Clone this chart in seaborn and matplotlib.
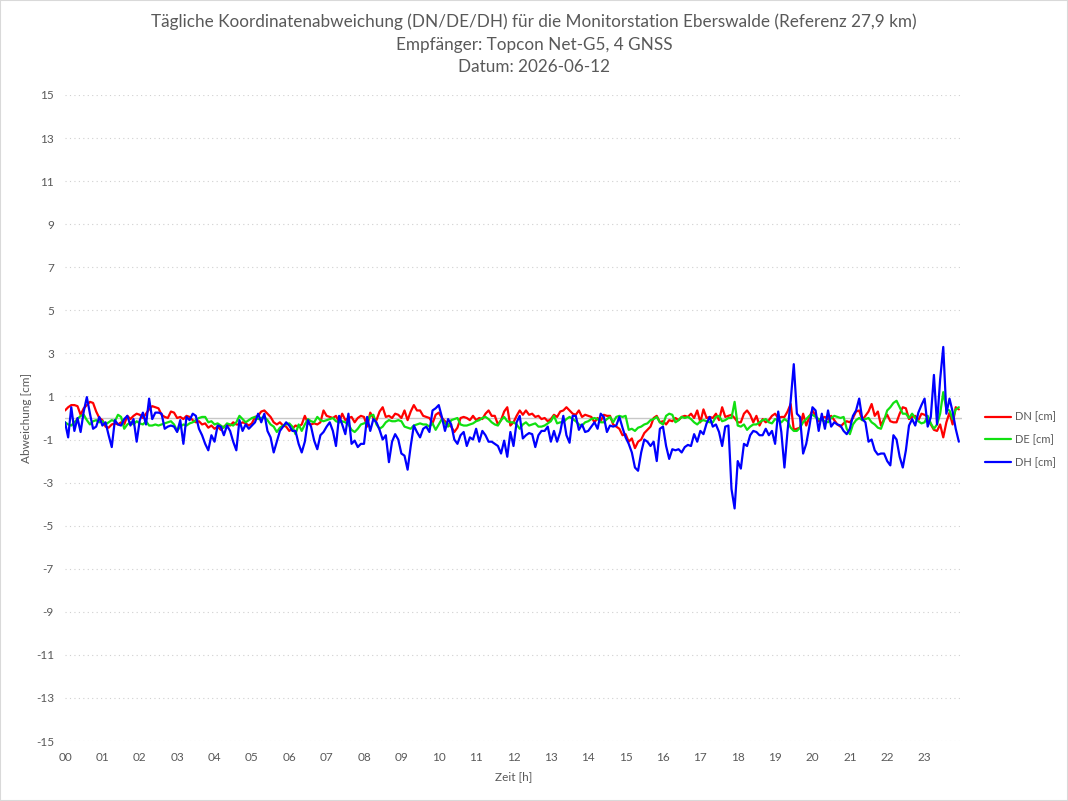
import numpy as np
import pandas as pd
import matplotlib
matplotlib.use("Agg")
import matplotlib.pyplot as plt
from matplotlib import font_manager
from matplotlib.patches import Rectangle
import seaborn as sns

# 5-minute samples, one row per hour (00..23)
dn_cm = [
    0.35, 0.5, 0.6, 0.6, 0.55, 0.15, 0.45, 0.6, 0.75, 0.7, 0.3, 0.0,
    -0.1, -0.4, -0.45, -0.3, -0.25, -0.3, -0.2, -0.3, 0.1, -0.05, 0.1, 0.2,
    0.15, 0.0, 0.2, 0.4, 0.55, 0.5, 0.45, 0.15, 0.05, 0.0, 0.3, 0.25,
    0.0, 0.05, -0.05, 0.1, 0.05, -0.1, -0.2, -0.15, -0.3, -0.25, -0.45, -0.35,
    -0.5, -0.4, -0.55, -0.4, -0.3, -0.35, -0.2, -0.3, -0.3, -0.2, -0.25, -0.35,
    -0.25, 0.05, 0.1, 0.3, 0.35, 0.2, 0.05, -0.2, -0.3, -0.2, -0.35, -0.4,
    -0.6, -0.5, -0.35, -0.4, -0.3, 0.1, -0.25, -0.3, -0.25, -0.3, -0.2, 0.35,
    0.1, 0.05, 0.0, 0.1, -0.2, 0.2, -0.1, 0.0, 0.05, -0.2, 0.0, 0.1,
    0.05, -0.4, 0.25, 0.0, -0.1, 0.3, 0.5, 0.05, 0.1, 0.0, 0.2, 0.15,
    0.0, 0.35, -0.1, 0.3, 0.6, 0.35, 0.35, 0.1, 0.05, 0.0, -0.25, 0.15,
    0.25, 0.0, -0.15, -0.3, -0.4, -0.65, -0.45, 0.0, 0.05, 0.0, -0.1, 0.1,
    -0.1, 0.0, -0.05, 0.2, 0.35, 0.1, 0.1, -0.3, -0.1, 0.3, 0.5, -0.35,
    -0.2, 0.1, 0.35, 0.15, 0.35, 0.15, 0.2, 0.05, 0.1, -0.05, 0.0, -0.15,
    -0.05, 0.15, 0.05, 0.3, 0.35, 0.5, 0.35, 0.2, 0.15, 0.35, 0.05, 0.15,
    0.1, 0.05, -0.2, 0.0, -0.15, 0.15, 0.1, 0.1, -0.3, -0.4, -0.5, -0.8,
    -0.75, -1.1, -0.95, -1.4, -1.1, -1.0, -0.7, -0.55, -0.4, 0.0, 0.1, -0.2,
    -0.15, -0.3, -0.1, -0.15, 0.0, -0.1, 0.05, 0.1, 0.05, 0.2, 0.0, 0.35,
    -0.2, 0.4, 0.0, 0.05, 0.0, 0.2, -0.1, 0.5, 0.05, 0.1, 0.15, 0.0,
    -0.2, -0.2, 0.2, 0.35, 0.15, -0.2, 0.1, -0.35, -0.05, -0.2, -0.1, 0.1,
    0.2, 0.0, 0.05, 0.05, 0.3, 0.65, -0.55, -0.5, -0.45, 0.2, -0.35, 0.05,
    0.35, 0.1, -0.15, 0.0, 0.05, -0.05, 0.1, -0.1, -0.3, -0.4, -0.25, -0.15,
    -0.2, 0.0, 0.3, 0.35, -0.1, 0.1, 0.3, 0.65, 0.1, 0.3, -0.35, -0.05,
    0.15, -0.15, -0.2, -0.2, 0.2, 0.5, 0.45, -0.05, 0.05, 0.1, -0.1, 0.2,
    0.15, 0.05, -0.3, -0.55, -0.6, -0.3, -0.9, -0.2, 0.25, -0.3, 0.5, 0.4,
]

de_cm = [
    -0.2, -0.3, -0.35, -0.2, -0.05, 0.1, 0.15, -0.1, -0.3, -0.15, -0.1, -0.2,
    -0.15, -0.3, -0.2, -0.1, -0.15, 0.15, 0.05, -0.5, -0.3, -0.2, -0.3, -0.15,
    -0.25, -0.3, -0.15, -0.35, -0.35, -0.3, -0.35, -0.3, -0.25, -0.2, -0.15, -0.3,
    -0.6, -0.4, -0.3, -0.35, -0.25, -0.2, -0.1, 0.0, 0.05, 0.05, -0.2, -0.15,
    -0.3, -0.25, -0.35, -0.45, -0.25, -0.3, -0.35, -0.2, 0.1, -0.05, -0.2, -0.1,
    0.0, 0.05, -0.05, 0.0, 0.05, -0.1, -0.3, -0.4, -0.65, -0.45, -0.35, -0.3,
    -0.25, -0.4, -0.75, -0.3, -0.6, -0.3, -0.05, -0.15, -0.2, 0.05, -0.1, -0.15,
    -0.1, -0.05, 0.0, -0.15, -0.2, -0.15, -0.2, -0.3, -0.55, -0.65, -0.5, -0.3,
    -0.25, -0.2, 0.1, 0.15, -0.3, -0.5, -0.4, -0.2, -0.1, -0.15, -0.15, -0.1,
    -0.15, -0.4, -0.45, -0.5, -0.35, -0.3, -0.25, -0.3, -0.3, -0.4, -0.25, -0.55,
    -0.3, -0.05, -0.25, -0.4, -0.1, -0.05, 0.0, -0.3, -0.35, -0.35, -0.3, -0.25,
    -0.15, -0.1, 0.0, 0.05, -0.05, -0.2, -0.3, -0.35, -0.1, 0.05, -0.15, -0.2,
    -0.2, -0.3, -0.5, -0.3, -0.2, -0.35, -0.3, -0.25, -0.4, -0.4, -0.35, -0.25,
    -0.15, 0.1, -0.25, -0.2, -0.2, -0.05, 0.05, -0.05, -0.15, -0.3, -0.35, -0.2,
    -0.15, -0.05, 0.0, -0.05, -0.2, -0.2, -0.05, 0.05, -0.2, 0.05, 0.1, 0.05,
    0.1, -0.55, -0.5, -0.6, -0.45, -0.4, -0.3, -0.25, -0.1, -0.05, 0.05, -0.2,
    -0.3, 0.1, 0.2, 0.15, -0.2, -0.1, 0.05, 0.0, 0.05, -0.05, -0.2, -0.3,
    -0.15, -0.1, -0.15, -0.2, -0.2, 0.05, 0.1, -0.15, -0.1, 0.0, 0.0, 0.75,
    -0.35, -0.4, -0.3, -0.55, -0.4, -0.3, -0.3, -0.2, -0.1, -0.05, -0.2, -0.25,
    -0.05, -0.1, -0.2, -0.05, -0.15, -0.45, -0.6, -0.6, -0.45, -0.2, -0.05, 0.1,
    0.15, 0.05, -0.05, -0.1, -0.15, -0.2, 0.0, 0.1, 0.05, 0.0, 0.05, -0.5,
    -0.75, -0.3, -0.1, 0.0, -0.1, -0.05, 0.0, -0.2, -0.3, -0.45, -0.5, -0.1,
    0.35, 0.5, 0.7, 0.8, 0.5, 0.2, 0.2, 0.0, 0.2, 0.0, -0.15, -0.25,
    -0.2, 0.1, -0.25, -0.5, -0.3, 0.2, 1.2, 0.4, 0.35, -0.05, 0.4, 0.5,
]

dh_cm = [
    -0.2, -0.9, 0.5, -0.6, 0.0, -0.65, 0.3, 0.97, 0.2, -0.5, -0.4, 0.05,
    -0.35, -0.2, -0.8, -1.35, -0.1, -0.3, -0.35, -0.05, 0.1, -0.35, -0.05, -1.1,
    -0.1, 0.25, -0.3, 0.9, -0.05, 0.25, 0.25, 0.2, -0.5, -0.4, -0.35, -0.4,
    -0.65, -0.1, -1.2, 0.05, -0.1, 0.2, 0.1, -0.5, -0.8, -1.2, -1.5, -0.8,
    -1.1, -0.35, -0.4, -0.8, -0.35, -0.6, -1.1, -1.5, -0.1, -0.6, -0.3, -0.5,
    -0.35, -0.2, 0.2, -0.2, 0.2, -0.6, -0.9, -1.6, -1.1, -0.6, -0.4, -0.2,
    -0.35, -0.6, -0.6, -1.2, -1.6, -1.1, -0.1, -0.4, -1.05, -1.45, -0.8, -0.65,
    -0.4, -0.2, -0.6, -1.3, 0.1, -0.3, -0.75, 0.2, -1.2, -1.05, -1.35, -1.2,
    -1.2, 0.05, -0.6, -0.05, -0.2, -0.55, -1.0, -0.8, -2.05, -1.1, -0.75, -1.0,
    -1.65, -1.75, -2.4, -1.3, -0.35, -0.65, -0.9, -0.5, -0.4, -0.65, 0.35, 0.45,
    0.6, 0.05, -0.6, -0.05, -0.3, -1.0, -1.2, -0.8, -0.65, -1.3, -0.9, -1.0,
    -0.5, -1.1, -0.6, -0.8, -1.1, -1.1, -1.2, -1.3, -1.65, -1.05, -1.8, -0.65,
    -1.3, -0.2, 0.1, -0.95, -0.8, -0.7, -0.75, -1.35, -0.8, -0.6, -0.6, -0.4,
    -1.1, -0.6, -1.1, -0.65, 0.1, -0.8, -1.15, 0.1, 0.1, -0.55, -0.3, -0.65,
    -0.6, -0.4, -0.2, -0.5, 0.2, 0.05, -0.65, -0.35, -0.4, -0.35, 0.05, -0.45,
    -0.9, -1.2, -1.6, -2.3, -2.45, -1.6, -1.0, -1.1, -1.3, -1.1, -2.0, -0.5,
    -0.4, -1.3, -1.9, -1.45, -1.5, -1.45, -1.6, -1.35, -1.25, -1.3, -0.75, -1.1,
    -0.6, -0.75, -0.25, 0.05, -0.4, -0.3, -0.65, -1.3, -0.4, -0.35, -3.3, -4.2,
    -2.0, -2.35, -1.2, -1.3, -0.8, -0.6, -0.65, -0.8, -0.8, -0.5, -0.8, -0.6,
    -1.2, 0.3, -0.65, -2.3, -0.6, 0.8, 2.5, 0.2, 0.05, -1.65, -1.2, -0.4,
    0.5, 0.35, -0.6, 0.2, -0.5, 0.35, -0.4, -0.2, -0.3, -0.35, -0.6, -0.75,
    -0.5, 0.1, 0.35, 0.9, -0.05, -0.2, -1.1, -1.0, -1.5, -1.7, -1.65, -1.65,
    -2.0, -2.2, -0.8, -1.0, -1.8, -2.3, -1.5, -0.35, -0.05, -0.35, 0.25, 0.6,
    0.9, -0.4, 0.05, 2.0, -0.3, 1.8, 3.3, 0.2, 0.9, 0.3, -0.5, -1.1,
]

zeit_h = np.arange(len(dh_cm)) / 12.0

series_names = ["DN [cm]", "DE [cm]", "DH [cm]"]
series_colors = ["#ff0000", "#11e011", "#0000ff"]
hour_labels = [f"{h:02d}" for h in range(24)]

title_text = ("Tägliche Koordinatenabweichung (DN/DE/DH) für die Monitorstation "
              "Eberswalde (Referenz 27,9 km)\nEmpfänger: Topcon Net-G5, 4 GNSS\n"
              "Datum: 2026-06-12")

df = pd.DataFrame({
    "Zeit": np.tile(zeit_h, 3),
    "Wert": np.concatenate([dn_cm, de_cm, dh_cm]),
    "Reihe": np.repeat(series_names, len(zeit_h)),
})

sns.set_style("white")
installed = {f.name for f in font_manager.fontManager.ttflist}
family = [f for f in ["Lato", "Open Sans"] if f in installed]
plt.rcParams["font.family"] = family + ["DejaVu Sans"]
plt.rcParams["axes.unicode_minus"] = False

grey = "#595959"

fig = plt.figure(figsize=(10.68, 8.01), dpi=100)
ax = fig.add_axes([0.0609, 0.0749, 0.8398, 0.8065])

sns.lineplot(data=df, x="Zeit", y="Wert", hue="Reihe",
             palette=dict(zip(series_names, series_colors)),
             linewidth=1.6, ax=ax, legend=True)

ax.set_xlim(0, 24)
ax.set_ylim(-15, 15)
ax.set_yticks(np.arange(-15, 16, 2))
ax.set_xticks(np.arange(24))
ax.set_xticklabels(hour_labels)
ax.tick_params(axis="both", length=0, labelsize=8.5, labelcolor=grey, pad=8)
ax.yaxis.grid(True, linestyle=(0, (1, 3)), color="#d0d0d0", linewidth=0.8)
ax.xaxis.grid(False)
ax.axhline(0, color="#c8c8c8", linewidth=1.0, zorder=0.5)
for s in ax.spines.values():
    s.set_visible(False)

ax.set_xlabel("Zeit [h]", fontsize=8.5, color=grey, labelpad=6)
ax.set_ylabel("Abweichung [cm]", fontsize=8.5, color=grey, labelpad=3)

handles, labels = ax.get_legend_handles_labels()
ax.get_legend().remove()
fig.legend(handles, labels, loc="center left", bbox_to_anchor=(0.922, 0.451),
           frameon=False, fontsize=8, handlelength=2.4, handletextpad=0.35,
           labelspacing=1.05, borderpad=0, borderaxespad=0, labelcolor=grey)

fig.suptitle(title_text, y=0.983, fontsize=12.3, color=grey, linespacing=1.5)

fig.patches.append(Rectangle((0, 0), 1, 1, transform=fig.transFigure,
                             fill=False, edgecolor="#d9d9d9", linewidth=1.5))

fig.savefig("out.png", dpi=100)
